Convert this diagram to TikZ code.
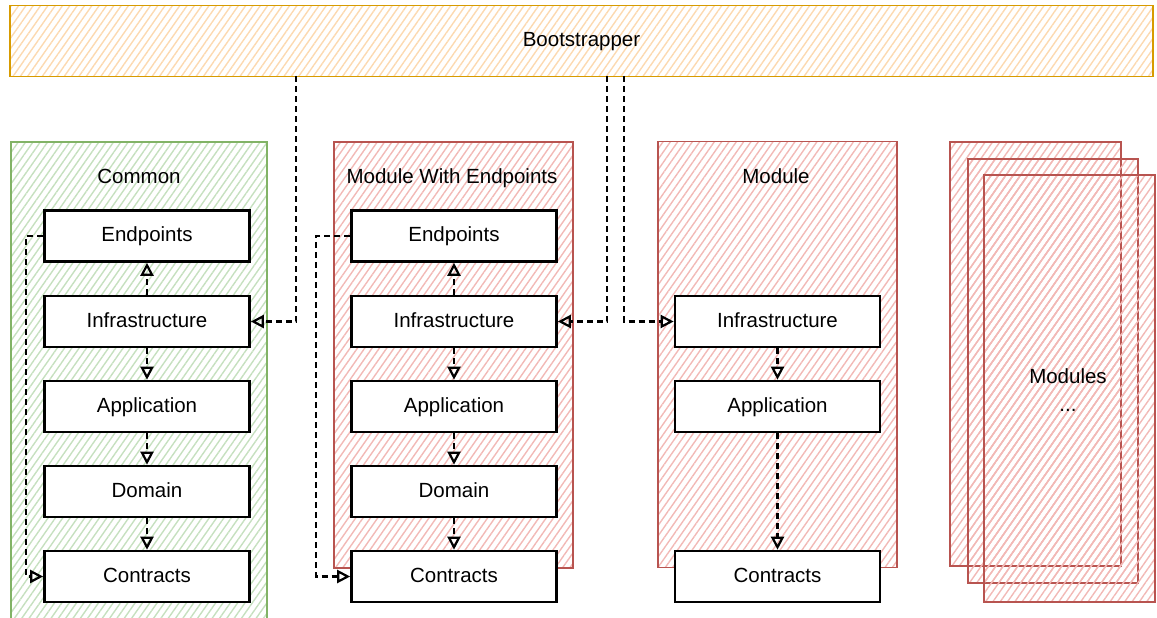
\documentclass[tikz,border=0pt]{standalone}
\usepackage{fontspec}
\setmainfont{Liberation Sans}
\usetikzlibrary{arrows.meta,patterns.meta}

\definecolor{bootline}{HTML}{D79B00}
\definecolor{boothatch}{HTML}{FCD9B0}
\definecolor{commonline}{HTML}{82B366}
\definecolor{commonhatch}{HTML}{C6E0BF}
\definecolor{moduleline}{HTML}{B85450}
\definecolor{modulehatch}{HTML}{F2B9B6}

\begin{document}
\begin{tikzpicture}[
                    x=1pt, y=-1pt,
                    every node/.style={
                        font=\fontsize{20.5}{24}\selectfont,
                        inner sep=0pt,
                        text height=15pt,
                        text depth=4pt
                    },
                    layer/.style={draw=black, line width=2.6pt, fill=white, minimum width=205pt, minimum height=51pt},
                    group/.style={line width=1.8pt, minimum width=239pt, minimum height=426pt},
                    hatch/.style={pattern={Lines[angle=55,distance=6pt,line width=1.4pt]}, pattern color=#1},
                    dep/.style={line width=2.4pt, dash pattern=on 6pt off 4pt, -{Triangle[open,length=13pt,width=13pt,line width=2.2pt]}}
                ]
                    \useasboundingbox (0,0) rectangle (1157,618);
                    \clip (0,0) rectangle (1157,618);

                    % Groups
                    \node[draw=bootline, line width=1.8pt, hatch=boothatch, minimum width=1143pt, minimum height=71pt] (boot) at (581.5,41) {Bootstrapper};
                    \node[group, draw=commonline, hatch=commonhatch, minimum width=256pt, minimum height=490pt] (common) at (139,387) {};
                    \node[group, draw=moduleline, hatch=modulehatch] (epmodule) at (453.5,355) {};
                    \node[group, draw=moduleline, hatch=modulehatch] (module) at (777.5,354.5) {};
                    \node[draw=moduleline, line width=1.8pt, hatch=modulehatch, minimum width=171pt, minimum height=424pt] (stacka) at (1035.5,354) {};
                    \node[draw=moduleline, line width=1.8pt, hatch=modulehatch, minimum width=170pt, minimum height=424pt] (stackb) at (1053,371) {};
                    \node[draw=moduleline, line width=1.8pt, hatch=modulehatch, minimum width=171pt, minimum height=427pt] (stackc) at (1069.5,388.5) {};

                    \node (ctitle) at (139,178) {Common};
                    \node (etitle) at (452,178) {Module With Endpoints};
                    \node (mtitle) at (776,178) {Module};
                    \node[align=center, text height=, text depth=] (stacktitle) at (1068,390) {Modules\\[4pt]...};

                    % Layers
                    \node[layer] (cend) at (147,236) {Endpoints};
                    \node[layer] (cinf) at (147,321.5) {Infrastructure};
                    \node[layer] (capp) at (147,406.5) {Application};
                    \node[layer] (cdom) at (147,491.5) {Domain};
                    \node[layer] (ccon) at (147,576.5) {Contracts};

                    \node[layer] (eend) at (454,236) {Endpoints};
                    \node[layer] (einf) at (454,321.5) {Infrastructure};
                    \node[layer] (eapp) at (454,406.5) {Application};
                    \node[layer] (edom) at (454,491.5) {Domain};
                    \node[layer] (econ) at (454,576.5) {Contracts};

                    \node[layer] (minf) at (777.5,321.5) {Infrastructure};
                    \node[layer] (mapp) at (777.5,406.5) {Application};
                    \node[layer] (mcon) at (777.5,576.5) {Contracts};

                    \coordinate (bootc) at (296,76);
                    \coordinate (boote) at (607,76);
                    \coordinate (bootm) at (624,76);

                    % Edges
                    \draw[dep] (cinf) -- (cend);
                    \draw[dep] (cinf) -- (capp);
                    \draw[dep] (capp) -- (cdom);
                    \draw[dep] (cdom) -- (ccon);
                    \draw[dep] (cend.west) -- ++(-17,0) |- (ccon.west);

                    \draw[dep] (einf) -- (eend);
                    \draw[dep] (einf) -- (eapp);
                    \draw[dep] (eapp) -- (edom);
                    \draw[dep] (edom) -- (econ);
                    \draw[dep] (eend.west) -- ++(-34,0) |- (econ.west);

                    \draw[dep] (minf) -- (mapp);
                    \draw[dep] (mapp) -- (mcon);

                    \draw[dep] (bootc) |- (cinf.east);
                    \draw[dep] (boote) |- (einf.east);
                    \draw[dep] (bootm) |- (minf.west);
                \end{tikzpicture}
\end{document}
